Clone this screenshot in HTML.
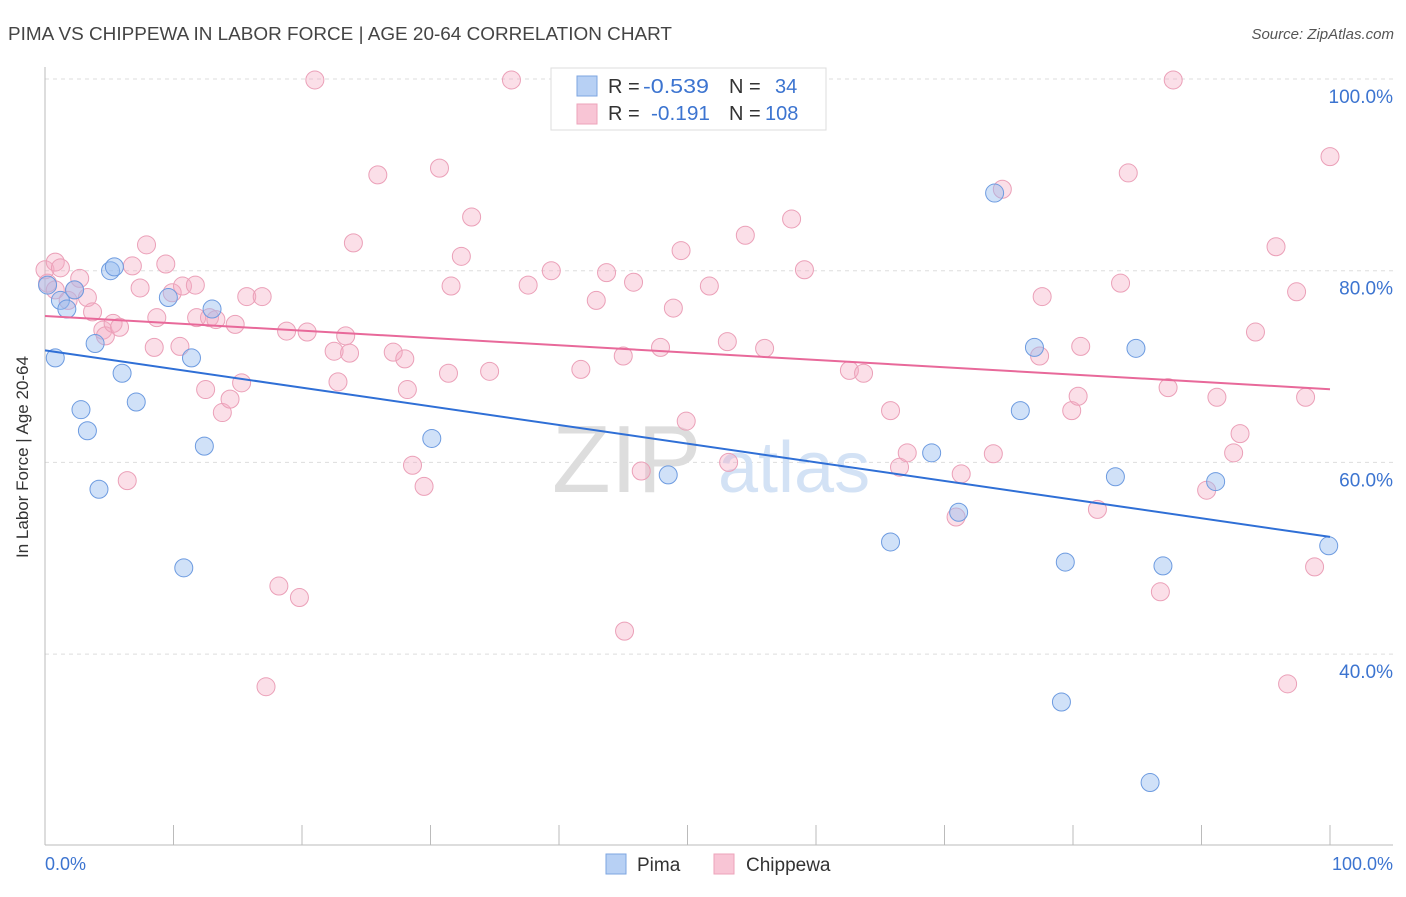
<!DOCTYPE html>
<html><head><meta charset="utf-8"><style>
body{margin:0;background:#fff;font-family:"Liberation Sans",sans-serif}
svg text{font-family:"Liberation Sans",sans-serif}
</style></head><body>
<svg width="1406" height="892">
<text x="8" y="40" font-size="18" fill="#444" textLength="664" lengthAdjust="spacingAndGlyphs">PIMA VS CHIPPEWA IN LABOR FORCE | AGE 20-64 CORRELATION CHART</text>
<text x="1394" y="39" font-size="15" fill="#555" font-style="italic" text-anchor="end">Source: ZipAtlas.com</text>
<g id="grid"></g>
<g>
<text x="552" y="492" font-size="96" fill="#ddd" font-family="Liberation Serif">ZIP</text>
<text x="718" y="492" font-size="72" fill="#d3e2f5">atlas</text>
</g>
<g id="pts"></g>
<g id="lines"></g>
<text x="28" y="457" font-size="17" fill="#333" text-anchor="middle" transform="rotate(-90 28 457)">In Labor Force | Age 20-64</text>
<text x="45" y="870" font-size="18" fill="#3c74d0">0.0%</text>
<text x="1393" y="870" font-size="18" fill="#3c74d0" text-anchor="end">100.0%</text>
<g>
<rect x="551" y="68" width="275" height="62" fill="#fff" stroke="#ddd"/>
<rect x="577" y="76" width="20" height="20" fill="#b7d0f4" stroke="#7ea6e0"/>
<rect x="577" y="104" width="20" height="20" fill="#f8c5d5" stroke="#eda3ba"/>
<text x="608" y="93" font-size="20" fill="#333">R = <tspan x="643" fill="#3c74d0" textLength="66" lengthAdjust="spacingAndGlyphs">-0.539</tspan><tspan x="729">N = </tspan><tspan x="775" fill="#3c74d0">34</tspan></text>
<text x="608" y="120" font-size="20" fill="#333">R = <tspan x="651" fill="#3c74d0" textLength="59" lengthAdjust="spacingAndGlyphs">-0.191</tspan><tspan x="729">N = </tspan><tspan x="765" fill="#3c74d0">108</tspan></text>
</g>
<g>
<rect x="606" y="854" width="20" height="20" fill="#b7d0f4" stroke="#7ea6e0"/>
<text x="637" y="871" font-size="19" fill="#333">Pima</text>
<rect x="714" y="854" width="20" height="20" fill="#f8c5d5" stroke="#eda3ba"/>
<text x="746" y="871" font-size="19" fill="#333">Chippewa</text>
</g>
</svg>
<script>
const pimaX=[0.2,0.8,1.2,1.7,2.3,2.8,3.3,3.9,4.2,5.1,5.4,6.0,7.1,9.6,10.8,11.4,12.4,13.0,30.1,48.5,65.8,69.0,71.1,73.9,75.9,77.0,79.4,79.1,83.3,84.9,86.0,87.0,91.1,99.9];
const pimaY=[78.5,70.9,76.9,76.0,78.0,65.5,63.3,72.4,57.2,80.0,80.4,69.3,66.3,77.2,49.0,70.9,61.7,76.0,62.5,58.7,51.7,61.0,54.8,88.1,65.4,72.0,49.6,35.0,58.5,71.9,26.6,49.2,58.0,51.3];
const chipX=[0.0,0.2,0.8,1.2,0.8,1.8,2.3,2.7,3.3,3.7,4.5,4.7,5.3,5.8,6.4,6.8,7.4,7.9,8.5,8.7,9.4,9.9,10.5,10.7,11.7,11.8,12.5,12.8,13.3,13.8,14.4,14.8,15.3,15.7,16.9,17.2,18.2,18.8,19.8,20.4,21.0,22.5,22.8,23.4,23.7,24.0,25.9,27.1,28.0,28.2,28.6,29.5,30.7,31.4,31.6,32.4,33.2,34.6,37.6,39.4,41.7,42.9,43.7,45.0,45.1,45.8,46.4,47.9,48.9,49.9,49.5,51.7,53.2,53.1,54.5,56.0,58.1,59.1,62.6,63.7,65.8,66.5,67.1,70.9,71.3,73.8,74.5,77.4,77.6,79.9,80.4,80.6,81.9,83.7,84.3,86.8,87.4,87.8,90.4,91.2,92.5,93.0,94.2,95.8,96.7,97.4,98.1,98.8,100.0,36.3];
const chipY=[80.1,78.7,80.9,80.3,78.0,76.9,78.0,79.2,77.2,75.7,73.8,73.2,74.5,74.1,58.1,80.5,78.2,82.7,72.0,75.1,80.7,77.7,72.1,78.4,78.5,75.1,67.6,75.1,74.9,65.2,66.6,74.4,68.3,77.3,77.3,36.6,47.1,73.7,45.9,73.6,99.9,71.6,68.4,73.2,71.4,82.9,90.0,71.5,70.8,67.6,59.7,57.5,90.7,69.3,78.4,81.5,85.6,69.5,78.5,80.0,69.7,76.9,79.8,71.1,42.4,78.8,59.1,72.0,76.1,64.3,82.1,78.4,60.0,72.6,83.7,71.9,85.4,80.1,69.6,69.3,65.4,59.5,61.0,54.3,58.8,60.9,88.5,71.1,77.3,65.4,66.9,72.1,55.1,78.7,90.2,46.5,67.8,99.9,57.1,66.8,61.0,63.0,73.6,82.5,36.9,77.8,66.8,49.1,91.9,99.9];
const yTicks=[100,80,60,40];
const yTickLabels=["100.0%","80.0%","60.0%","40.0%"];
const xTicks=[0,10,20,30,40,50,60,70,80,90,100];
const NS="http://www.w3.org/2000/svg";
const sx=v=>45+v*12.85;
const sy=v=>79+(100-v)*9.585;
function mk(t,a,p){const e=document.createElementNS(NS,t);for(const k in a)e.setAttribute(k,a[k]);p.appendChild(e);return e;}
const grid=document.getElementById('grid');
yTicks.forEach((v,i)=>{
 const l=mk('line',{x1:45,x2:1393,y1:sy(v),y2:sy(v),stroke:'#ddd','stroke-dasharray':'4,4'},grid);
 
 
 const t=mk('text',{x:1393,y:sy(v)+24,'font-size':19,fill:'#3c74d0','text-anchor':'end'},grid);
 t.textContent=yTickLabels[i];
 
 
});
const ax=mk('line',{x1:45,x2:1393,y1:845,y2:845,stroke:'#bbb'},grid);


const ay=mk('line',{x1:45,x2:45,y1:67,y2:845,stroke:'#bbb'},grid);


xTicks.forEach(v=>{
 const t=mk('line',{x1:sx(v),x2:sx(v),y1:825,y2:845,stroke:'#bbb'},grid);
 
 
});
const pts=document.getElementById('pts');
chipX.forEach((x,i)=>{
 const c=mk('circle',{cx:sx(x),cy:sy(chipY[i]),r:9,fill:'rgba(245,170,195,0.38)',stroke:'#eba0b8','stroke-width':1},pts);
 
 
});
pimaX.forEach((x,i)=>{
 const c=mk('circle',{cx:sx(x),cy:sy(pimaY[i]),r:9,fill:'rgba(150,188,240,0.45)',stroke:'#6d9be0','stroke-width':1},pts);
 
 
});
function fit(X,Y){const n=X.length;let mx=0,my=0;X.forEach((x,i)=>{mx+=x;my+=Y[i]});mx/=n;my/=n;let a=0,b=0;X.forEach((x,i)=>{a+=(x-mx)*(Y[i]-my);b+=(x-mx)*(x-mx)});const s=a/b;return [my-s*mx,s];}
const lines=document.getElementById('lines');
[[pimaX,pimaY,'#2f6fd6','pima-trendline'],[chipX,chipY,'#e8699a','chippewa-trendline']].forEach(([X,Y,col,nm])=>{
 const [b,s]=fit(X,Y);
 const l=mk('line',{x1:sx(0),y1:sy(b),x2:sx(100),y2:sy(b+100*s),stroke:col,'stroke-width':2},lines);
 
 
});
</script>
</body></html>
